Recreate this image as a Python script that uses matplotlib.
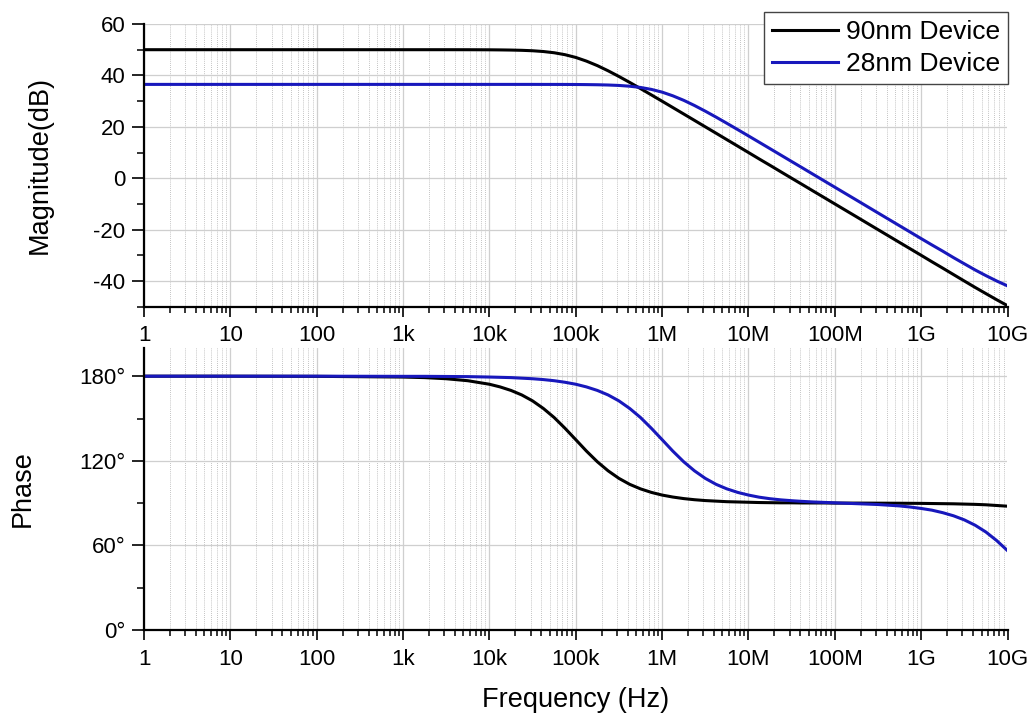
import matplotlib
matplotlib.use("Agg")
import matplotlib.pyplot as plt
from matplotlib.ticker import FixedLocator, FixedFormatter, LogLocator, MultipleLocator, NullFormatter

plt.rcParams["font.family"] = ["Liberation Sans", "DejaVu Sans"]
plt.rcParams["axes.unicode_minus"] = False

# frequency points (Hz)
freq = [1, 10, 100, 1e3, 1.78e3, 3.16e3, 5.62e3,
        1e4, 1.33e4, 1.78e4, 2.37e4, 3.16e4, 4.22e4, 5.62e4, 7.5e4,
        1e5, 1.33e5, 1.78e5, 2.37e5, 3.16e5, 4.22e5, 5.62e5, 7.5e5,
        1e6, 1.33e6, 1.78e6, 2.37e6, 3.16e6, 4.22e6, 5.62e6, 7.5e6,
        1e7, 1.33e7, 1.78e7, 2.37e7, 3.16e7, 4.22e7, 5.62e7, 7.5e7,
        1e8, 1.78e8, 3.16e8, 5.62e8, 7.5e8,
        1e9, 1.33e9, 1.78e9, 2.37e9, 3.16e9, 4.22e9, 5.62e9, 7.5e9, 1e10]

mag_90nm = [50.0, 50.0, 50.0, 50.0, 50.0, 50.0, 49.99,
            49.96, 49.92, 49.86, 49.76, 49.59, 49.29, 48.81, 48.06,
            46.99, 45.56, 43.8, 41.79, 39.59, 37.26, 34.87, 32.42,
            29.96, 27.5, 24.98, 22.5, 20.0, 17.5, 15.0, 12.5,
            10.0, 7.5, 5.0, 2.5, 0.0, -2.5, -5.0, -7.5,
            -10.0, -15.0, -20.0, -25.0, -27.5,
            -30.0, -32.5, -35.0, -37.5, -40.0, -42.5, -44.9, -47.3, -49.6]

mag_28nm = [36.5, 36.5, 36.5, 36.5, 36.5, 36.5, 36.5,
            36.5, 36.5, 36.5, 36.5, 36.5, 36.49, 36.49, 36.48,
            36.46, 36.42, 36.36, 36.26, 36.09, 35.79, 35.31, 34.56,
            33.49, 32.06, 30.3, 28.29, 26.09, 23.76, 21.37, 18.92,
            16.46, 14.0, 11.48, 9.0, 6.5, 4.0, 1.5, -1.0,
            -3.5, -8.5, -13.5, -18.5, -21.0,
            -23.5, -25.95, -28.4, -30.9, -33.3, -35.7, -37.9, -40.0, -41.9]

phase_90nm = [180.0, 180.0, 179.9, 179.4, 179.0, 178.2, 176.8,
              174.3, 172.4, 169.9, 166.7, 162.5, 157.1, 150.7, 143.1,
              135.0, 126.9, 119.3, 112.9, 107.55, 103.3, 100.1, 97.6,
              95.7, 94.3, 93.2, 92.4, 91.8, 91.4, 91.0, 90.8,
              90.6, 90.4, 90.3, 90.2, 90.2, 90.1, 90.1, 90.1,
              90.0, 90.0, 89.95, 89.9, 89.85,
              89.8, 89.7, 89.6, 89.5, 89.3, 89.1, 88.8, 88.3, 87.8]

phase_28nm = [180.0, 180.0, 180.0, 179.9, 179.9, 179.8, 179.7,
              179.4, 179.2, 179.0, 178.6, 178.2, 177.6, 176.8, 175.7,
              174.3, 172.4, 169.9, 166.7, 162.5, 157.1, 150.7, 143.1,
              135.0, 126.9, 119.3, 112.9, 107.55, 103.3, 100.1, 97.6,
              95.7, 94.2, 93.1, 92.3, 91.7, 91.2, 90.8, 90.5,
              90.2, 89.6, 89.0, 88.0, 87.2,
              86.2, 85.0, 83.2, 81.0, 78.1, 74.3, 69.5, 63.4, 56.3]

x_ticks = [1, 10, 100, 1e3, 1e4, 1e5, 1e6, 1e7, 1e8, 1e9, 1e10]
x_labels = ["1", "10", "100", "1k", "10k", "100k", "1M", "10M", "100M", "1G", "10G"]
mag_ticks = [-40, -20, 0, 20, 40, 60]
phase_ticks = [0, 60, 120, 180]
phase_labels = ["0°", "60°", "120°", "180°"]

labels = ["90nm Device", "28nm Device"]
colors = ["black", "#1818bc"]

W, H = 1031, 718
fig = plt.figure(figsize=(W / 100, H / 100), dpi=100)
ax1 = fig.add_axes([144 / W, 1 - 306.7 / H, 863.5 / W, 282.7 / H])
ax2 = fig.add_axes([144 / W, 1 - 630 / H, 863.5 / W, 282 / H])


def style_axis(ax):
    ax.set_xscale("log")
    ax.set_xlim(1, 1e10)
    ax.xaxis.set_major_locator(FixedLocator(x_ticks))
    ax.xaxis.set_major_formatter(FixedFormatter(x_labels))
    ax.xaxis.set_minor_locator(LogLocator(base=10, subs=range(2, 10), numticks=100))
    ax.xaxis.set_minor_formatter(NullFormatter())
    for side in ["top", "right"]:
        ax.spines[side].set_visible(False)
    for side in ["left", "bottom"]:
        ax.spines[side].set_linewidth(1.6)
    ax.tick_params(axis="x", which="major", direction="out", length=7.5, width=1.2,
                   labelsize=16, pad=6, colors="black")
    ax.tick_params(axis="x", which="minor", direction="out", length=4.5, width=1.1)
    ax.tick_params(axis="y", which="major", direction="out", length=8.5, width=1.2,
                   labelsize=16, pad=5)
    ax.tick_params(axis="y", which="minor", direction="out", length=5, width=1.1)
    ax.grid(True, which="major", color="#cfcfcf", linewidth=0.9)
    ax.grid(True, which="minor", axis="x", color="#b0b0b0", linewidth=0.6,
            linestyle=(0, (1, 1.5)))
    ax.set_axisbelow(True)


style_axis(ax1)
style_axis(ax2)

# magnitude
ax1.plot(freq, mag_90nm, color=colors[0], lw=2.2, label=labels[0])
ax1.plot(freq, mag_28nm, color=colors[1], lw=2.2, label=labels[1])
ax1.set_ylim(-50, 60)
ax1.yaxis.set_major_locator(FixedLocator(mag_ticks))
ax1.yaxis.set_minor_locator(MultipleLocator(10))
ax1.set_ylabel("Magnitude(dB)", fontsize=19.5)
ax1.yaxis.set_label_coords((40 - 144) / 863.5, 0.5)
ax1.yaxis.label.set_va("center")

# phase
ax2.plot(freq, phase_90nm, color=colors[0], lw=2.2)
ax2.plot(freq, phase_28nm, color=colors[1], lw=2.2)
ax2.set_ylim(0, 200)
ax2.yaxis.set_major_locator(FixedLocator(phase_ticks))
ax2.yaxis.set_major_formatter(FixedFormatter(phase_labels))
ax2.yaxis.set_minor_locator(FixedLocator([30, 90, 150]))
ax2.set_ylabel("Phase", fontsize=19.5)
ax2.yaxis.set_label_coords((23 - 144) / 863.5, 0.5)
ax2.yaxis.label.set_va("center")
ax2.set_xlabel("Frequency (Hz)", fontsize=19.5)
ax2.xaxis.set_label_coords(0.5, -(700 - 630) / 282)
ax2.xaxis.label.set_va("center")

leg = ax1.legend(loc="upper right", bbox_to_anchor=(1008 / W, 1 - 12.3 / H),
                 bbox_transform=fig.transFigure, fontsize=19, frameon=True,
                 fancybox=False, framealpha=1, edgecolor="#444444",
                 handlelength=2.5, handletextpad=0.3, borderpad=0.3,
                 labelspacing=0.3, borderaxespad=0)
leg.get_frame().set_linewidth(1.0)
leg.set_zorder(5)

fig.savefig("out.png", dpi=100)
